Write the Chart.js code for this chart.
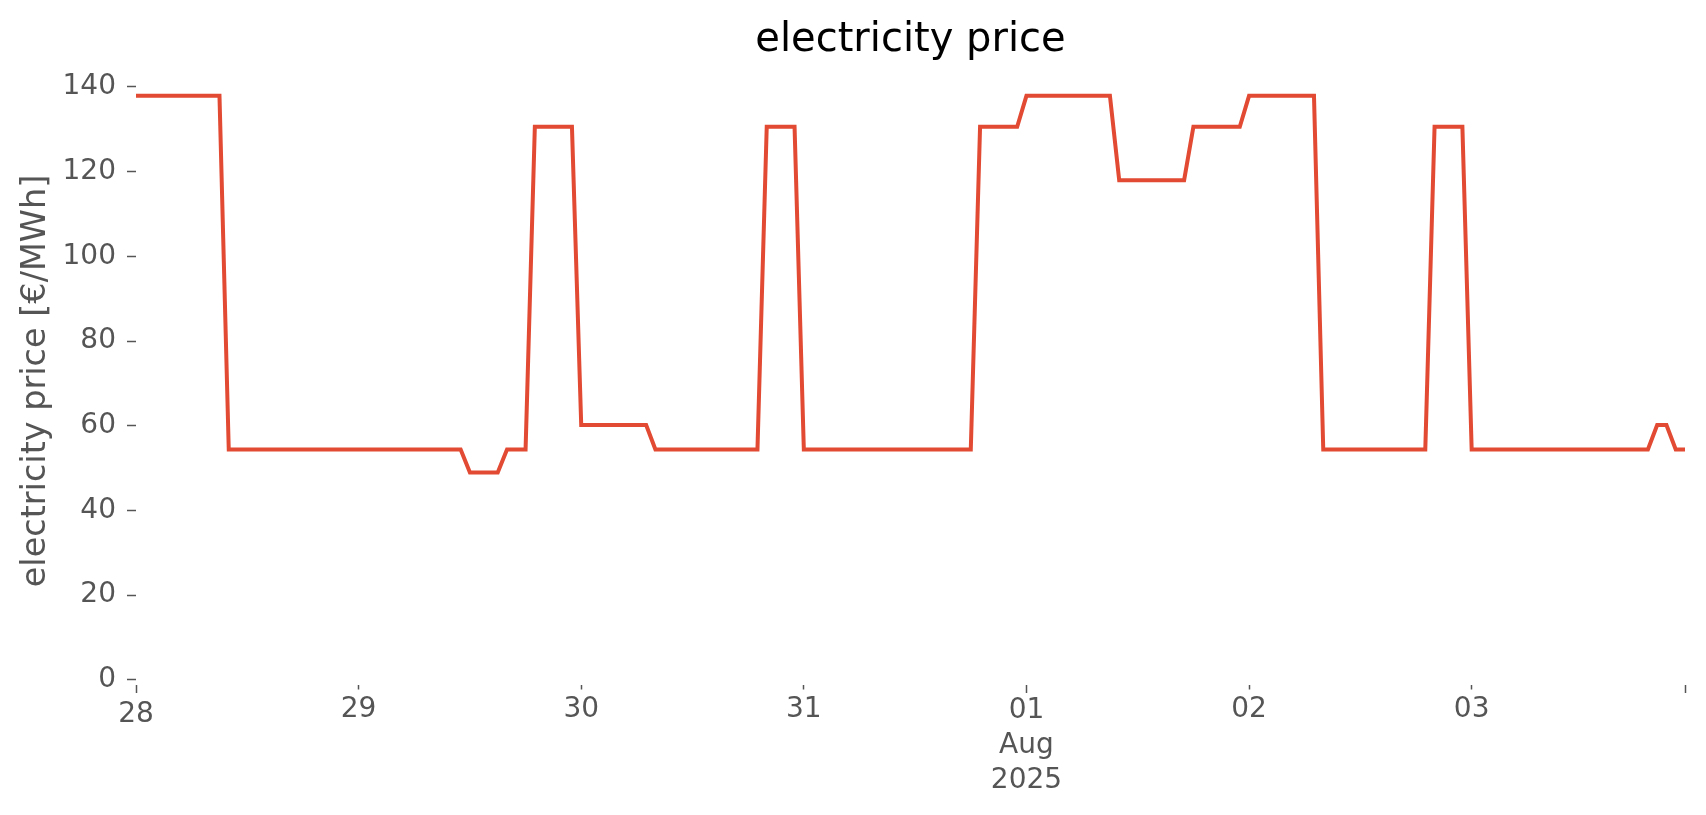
<!DOCTYPE html>
<html>
<head>
<meta charset="utf-8">
<title>electricity price</title>
<script src="https://cdn.jsdelivr.net/npm/chart.js@4.4.0/dist/chart.umd.min.js"></script>
<style>
    html, body { margin: 0; padding: 0; background: #ffffff; }
    #wrap { width: 1706px; height: 815px; }
</style>
</head>
<body>
<div id="wrap"><canvas id="priceChart" width="1706" height="815"></canvas></div>
<script>
// hourly prices in €/MWh, one array per day (00:00 .. 23:00)
const jul28 = [137.9, 137.9, 137.9, 137.9, 137.9, 137.9, 137.9, 137.9, 137.9, 137.9, 54.4, 54.4,
               54.4, 54.4, 54.4, 54.4, 54.4, 54.4, 54.4, 54.4, 54.4, 54.4, 54.4, 54.4];
const jul29 = [54.4, 54.4, 54.4, 54.4, 54.4, 54.4, 54.4, 54.4, 54.4, 54.4, 54.4, 54.4,
               49.0, 49.0, 49.0, 49.0, 54.4, 54.4, 54.4, 130.6, 130.6, 130.6, 130.6, 130.6];
const jul30 = [60.2, 60.2, 60.2, 60.2, 60.2, 60.2, 60.2, 60.2, 54.4, 54.4, 54.4, 54.4,
               54.4, 54.4, 54.4, 54.4, 54.4, 54.4, 54.4, 54.4, 130.6, 130.6, 130.6, 130.6];
const jul31 = [54.4, 54.4, 54.4, 54.4, 54.4, 54.4, 54.4, 54.4, 54.4, 54.4, 54.4, 54.4,
               54.4, 54.4, 54.4, 54.4, 54.4, 54.4, 54.4, 130.6, 130.6, 130.6, 130.6, 130.6];
const aug01 = [137.9, 137.9, 137.9, 137.9, 137.9, 137.9, 137.9, 137.9, 137.9, 137.9, 118.0, 118.0,
               118.0, 118.0, 118.0, 118.0, 118.0, 118.0, 130.6, 130.6, 130.6, 130.6, 130.6, 130.6];
const aug02 = [137.9, 137.9, 137.9, 137.9, 137.9, 137.9, 137.9, 137.9, 54.4, 54.4, 54.4, 54.4,
               54.4, 54.4, 54.4, 54.4, 54.4, 54.4, 54.4, 54.4, 130.6, 130.6, 130.6, 130.6];
const aug03 = [54.4, 54.4, 54.4, 54.4, 54.4, 54.4, 54.4, 54.4, 54.4, 54.4, 54.4, 54.4,
               54.4, 54.4, 54.4, 54.4, 54.4, 54.4, 54.4, 54.4, 60.2, 60.2, 54.4, 54.4];

// x ticks: hours since Jul 28 00:00
const xTickHours = [0, 24, 48, 72, 96, 120, 144, 167];
const xTickLabels = ["28", "29", "30", "31", ["01", "Aug", "2025"], "02", "03", ""];
const xMajorTicks = [0, 4, 7];
const yTicks = [0, 20, 40, 60, 80, 100, 120, 140];

const prices = [].concat(jul28, jul29, jul30, jul31, aug01, aug02, aug03);
const points = prices.map((v, i) => ({ x: i, y: v }));

Chart.defaults.font.family = "'DejaVu Sans', sans-serif";
Chart.defaults.color = "#555555";

new Chart(document.getElementById("priceChart"), {
    type: "line",
    data: {
        datasets: [
            {
                label: "electricity price",
                data: points,
                borderColor: "#E24A33",
                borderWidth: 4,
                pointRadius: 0,
                tension: 0,
                fill: false
            }
        ]
    },
    options: {
        responsive: false,
        animation: false,
        layout: { padding: { left: 0, right: 21, top: 0, bottom: 0 } },
        plugins: {
            legend: { display: false },
            tooltip: { enabled: false },
            title: {
                display: true,
                fullSize: false,
                text: "electricity price",
                color: "#000000",
                font: { size: 40, weight: "normal", lineHeight: 1.2 },
                padding: { top: 17, bottom: 12 }
            }
        },
        scales: {
            x: {
                type: "linear",
                min: 0,
                max: 167,
                border: { display: false },
                grid: {
                    display: true,
                    drawOnChartArea: false,
                    drawTicks: true,
                    tickLength: 8,
                    tickColor: "#555555",
                    tickWidth: 1.5,
                    tickBorderDash: (ctx) => xMajorTicks.includes(ctx.index) ? [] : [4.5, 40]
                },
                afterBuildTicks: (axis) => {
                    axis.ticks = xTickHours.map((h) => ({ value: h }));
                },
                afterFit: (axis) => { axis.height = 130; },
                ticks: {
                    autoSkip: false,
                    maxRotation: 0,
                    padding: 0,
                    color: "#555555",
                    font: (ctx) => ({
                        size: 28,
                        lineHeight: ctx.index === 0 ? 1.52 : (ctx.index === 4 ? 1.25 : 1.2)
                    }),
                    callback: (value, index) => xTickLabels[index]
                }
            },
            y: {
                min: -1.2,
                max: 142.35,
                border: { display: false },
                grid: {
                    display: true,
                    drawOnChartArea: false,
                    drawTicks: true,
                    tickLength: 9,
                    tickColor: "#555555",
                    tickWidth: 1.5
                },
                afterBuildTicks: (axis) => {
                    axis.ticks = yTicks.map((v) => ({ value: v }));
                },
                afterFit: (axis) => { axis.width = 136; },
                ticks: {
                    padding: 11,
                    color: "#555555",
                    font: { size: 28 },
                    callback: (value) => String(value)
                },
                title: {
                    display: true,
                    text: "electricity price [€/MWh]",
                    color: "#555555",
                    font: { size: 33.5, lineHeight: 1.2 },
                    padding: { top: 16, bottom: 0 }
                }
            }
        }
    }
});
</script>
</body>
</html>
